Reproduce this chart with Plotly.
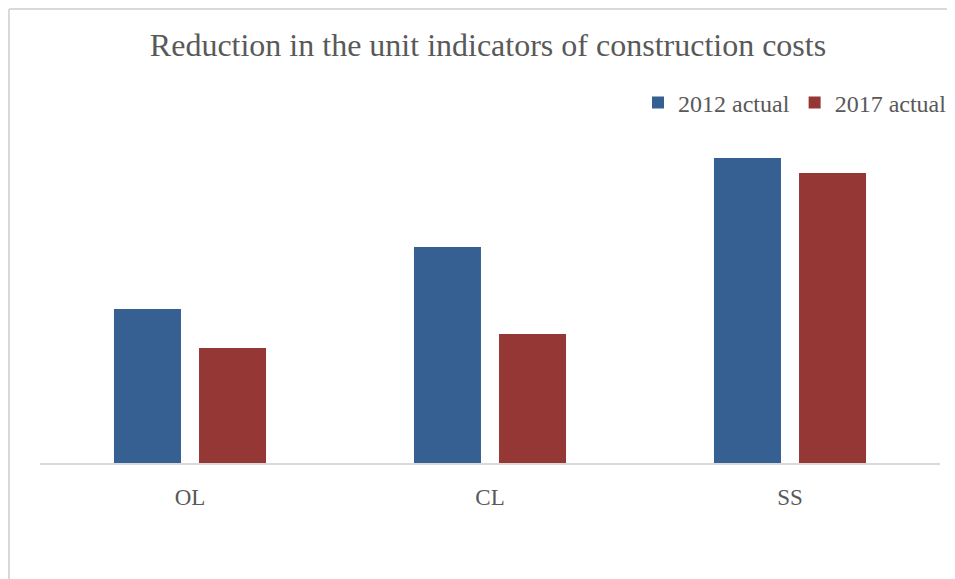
import plotly.graph_objects as go

categories = ["OL", "CL", "SS"]
series_names = ["2012 actual", "2017 actual"]
values_2012 = [154, 216, 305]
values_2017 = [115, 129, 290]
colors = ["#376092", "#953735"]

# page has an 8px body margin; figure coordinates = reference coordinates - 8
W, H = 939, 571
L, R, T, B = 32, 7, 122, 116
pw, ph = W - L - R, H - T - B
base = H - B  # baseline y in figure px

fig = go.Figure()
for name, vals, col in zip(series_names, [values_2012, values_2017], colors):
    fig.add_trace(go.Bar(x=categories, y=vals, name=name, marker=dict(color=col, line=dict(width=0))))

font = "Liberation Serif, Times New Roman, serif"
fig.update_layout(
    width=W, height=H,
    margin=dict(l=L, r=R, t=T, b=B, autoexpand=False),
    paper_bgcolor="white", plot_bgcolor="white",
    barmode="group", bargap=0.433, bargroupgap=0.212,
    title=dict(text="Reduction in the unit indicators of construction costs",
               x=480 / W, xanchor="center", y=1 - 37 / H, yanchor="middle",
               font=dict(family=font, size=32, color="#595959")),
    legend=dict(orientation="h", x=(944 - L) / pw, xanchor="right", y=(base - 95) / ph, yanchor="middle",
                font=dict(family=font, size=24, color="#595959"), bgcolor="rgba(0,0,0,0)",
                traceorder="normal"),
    xaxis=dict(showline=True, linecolor="#d9d9d9", linewidth=2, showgrid=False, ticks="",
               tickfont=dict(family=font, size=23, color="#595959"), ticklabelstandoff=12,
               fixedrange=True),
    yaxis=dict(visible=False, range=[0, ph], showgrid=False, zeroline=False),
    showlegend=True,
)
# chart frame (left and top border)
fig.add_shape(type="line", xref="paper", yref="paper",
              x0=(1 - L) / pw, x1=(1 - L) / pw, y0=(base - 1) / ph, y1=(base - 600) / ph,
              line=dict(color="#d9d9d9", width=2))
fig.add_shape(type="line", xref="paper", yref="paper",
              x0=(1 - L) / pw, x1=(1000 - L) / pw, y0=(base - 1) / ph, y1=(base - 1) / ph,
              line=dict(color="#d9d9d9", width=2))

fig.write_html("out.html")
